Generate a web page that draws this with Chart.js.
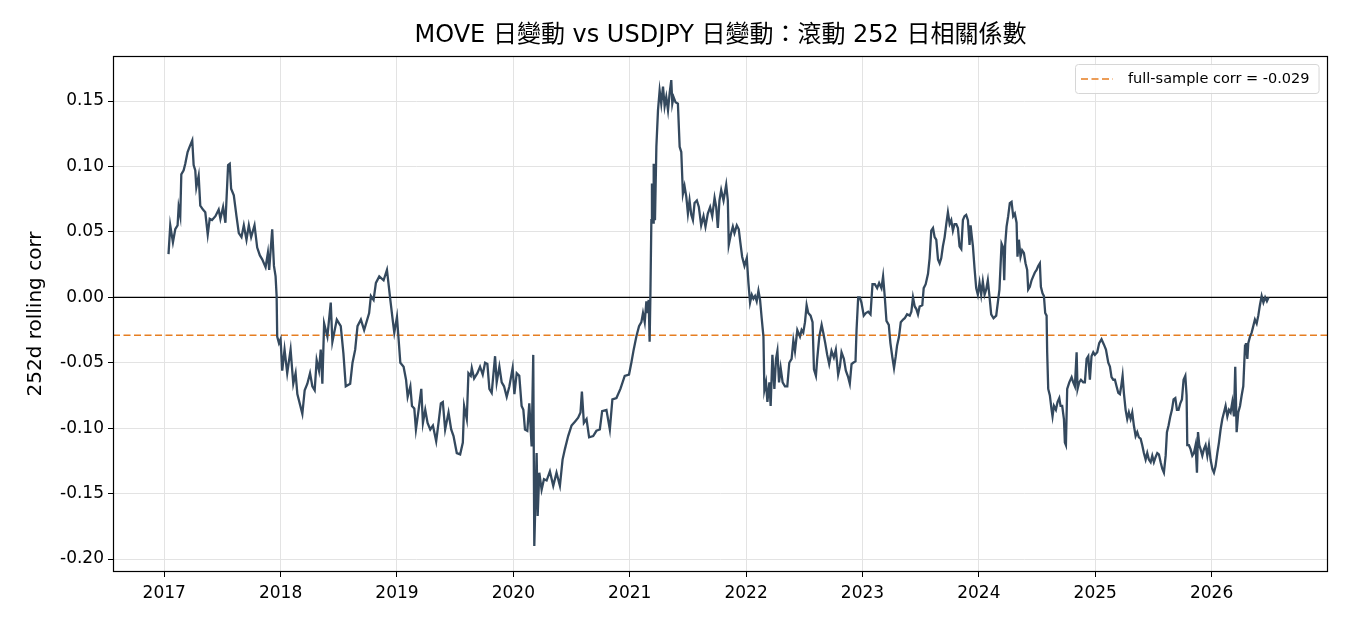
<!DOCTYPE html>
<html lang="zh-Hant">
<head>
    <meta charset="UTF-8">
    <title>MOVE vs USDJPY rolling corr</title>
    <script src="https://cdn.jsdelivr.net/npm/chart.js"></script>
    <style>
        html, body {
            margin: 0;
            padding: 0;
            background: #fff;
        }

        .chart-container {
            position: relative;
            width: 1350px;
            height: 630px;
        }
    </style>
</head>
<body>

    <div class="chart-container">
        <canvas id="corrChart"></canvas>
    </div>

    <script>
        // 日期（小數年）與 252 日滾動相關係數
        var dates = [
            2017.037, 2017.052, 2017.075, 2017.095, 2017.115, 2017.124, 2017.138, 2017.147, 2017.167, 2017.181,
            2017.201, 2017.218, 2017.241, 2017.253, 2017.267, 2017.276, 2017.296, 2017.310, 2017.333, 2017.353,
            2017.374, 2017.391, 2017.411, 2017.440, 2017.468, 2017.483, 2017.506, 2017.526, 2017.549, 2017.563,
            2017.575, 2017.598, 2017.621, 2017.641, 2017.664, 2017.684, 2017.707, 2017.727, 2017.747, 2017.776,
            2017.799, 2017.822, 2017.842, 2017.871, 2017.891, 2017.902, 2017.928, 2017.943, 2017.957, 2017.966,
            2017.971, 2017.986, 2018.000, 2018.014, 2018.034, 2018.057, 2018.086, 2018.109, 2018.129, 2018.144,
            2018.187, 2018.207, 2018.230, 2018.253, 2018.273, 2018.293, 2018.310, 2018.330, 2018.345, 2018.359,
            2018.374, 2018.402, 2018.431, 2018.445, 2018.483, 2018.517, 2018.540, 2018.560, 2018.598, 2018.618,
            2018.641, 2018.661, 2018.690, 2018.718, 2018.761, 2018.776, 2018.799, 2018.819, 2018.848, 2018.885,
            2018.914, 2018.943, 2018.963, 2018.977, 2019.000, 2019.029, 2019.057, 2019.078, 2019.092, 2019.115,
            2019.129, 2019.149, 2019.163, 2019.186, 2019.209, 2019.223, 2019.243, 2019.263, 2019.286, 2019.309,
            2019.337, 2019.357, 2019.377, 2019.394, 2019.414, 2019.443, 2019.466, 2019.486, 2019.514, 2019.543,
            2019.566, 2019.577, 2019.600, 2019.614, 2019.634, 2019.643, 2019.663, 2019.691, 2019.714, 2019.737,
            2019.757, 2019.777, 2019.794, 2019.814, 2019.843, 2019.857, 2019.880, 2019.900, 2019.920, 2019.943,
            2019.966, 2019.994, 2020.009, 2020.029, 2020.051, 2020.071, 2020.086, 2020.100, 2020.120, 2020.137,
            2020.157, 2020.171, 2020.180, 2020.200, 2020.209, 2020.223, 2020.243, 2020.263, 2020.286, 2020.314,
            2020.343, 2020.371, 2020.400, 2020.423, 2020.443, 2020.471, 2020.500, 2020.529, 2020.557, 2020.577,
            2020.589, 2020.606, 2020.629, 2020.651, 2020.686, 2020.714, 2020.743, 2020.763, 2020.800, 2020.829,
            2020.851, 2020.886, 2020.920, 2020.957, 2020.994, 2021.014, 2021.034, 2021.057, 2021.080, 2021.100,
            2021.114, 2021.129, 2021.143, 2021.151, 2021.163, 2021.171, 2021.177, 2021.186, 2021.191, 2021.200,
            2021.206, 2021.217, 2021.229, 2021.243, 2021.257, 2021.271, 2021.286, 2021.300, 2021.314, 2021.329,
            2021.343, 2021.357, 2021.366, 2021.377, 2021.394, 2021.414, 2021.429, 2021.443, 2021.457, 2021.471,
            2021.486, 2021.500, 2021.514, 2021.529, 2021.543, 2021.557, 2021.577, 2021.594, 2021.614, 2021.634,
            2021.651, 2021.671, 2021.691, 2021.709, 2021.729, 2021.743, 2021.757, 2021.771, 2021.786, 2021.806,
            2021.829, 2021.843, 2021.851, 2021.871, 2021.886, 2021.900, 2021.920, 2021.937, 2021.949, 2021.966,
            2021.986, 2022.006, 2022.020, 2022.034, 2022.049, 2022.063, 2022.077, 2022.091, 2022.106, 2022.120,
            2022.134, 2022.149, 2022.157, 2022.171, 2022.183, 2022.200, 2022.211, 2022.226, 2022.243, 2022.257,
            2022.269, 2022.283, 2022.297, 2022.314, 2022.334, 2022.354, 2022.371, 2022.391, 2022.406, 2022.420,
            2022.440, 2022.463, 2022.477, 2022.491, 2022.506, 2022.520, 2022.534, 2022.554, 2022.571, 2022.583,
            2022.600, 2022.611, 2022.629, 2022.649, 2022.663, 2022.680, 2022.697, 2022.714, 2022.734, 2022.754,
            2022.771, 2022.791, 2022.806, 2022.820, 2022.840, 2022.857, 2022.877, 2022.891, 2022.906, 2022.920,
            2022.940, 2022.949, 2022.963, 2022.977, 2022.991, 2023.011, 2023.029, 2023.049, 2023.069, 2023.086,
            2023.106, 2023.126, 2023.143, 2023.163, 2023.177, 2023.191, 2023.206, 2023.226, 2023.240, 2023.257,
            2023.271, 2023.286, 2023.297, 2023.314, 2023.329, 2023.349, 2023.363, 2023.383, 2023.406, 2023.420,
            2023.434, 2023.449, 2023.463, 2023.477, 2023.491, 2023.514, 2023.526, 2023.543, 2023.563, 2023.577,
            2023.591, 2023.606, 2023.620, 2023.634, 2023.649, 2023.663, 2023.677, 2023.691, 2023.706, 2023.720,
            2023.734, 2023.749, 2023.763, 2023.777, 2023.791, 2023.806, 2023.820, 2023.834, 2023.849, 2023.863,
            2023.877, 2023.891, 2023.906, 2023.920, 2023.929, 2023.940, 2023.949, 2023.963, 2023.977, 2023.991,
            2024.006, 2024.020, 2024.034, 2024.049, 2024.063, 2024.077, 2024.091, 2024.106, 2024.126, 2024.149,
            2024.163, 2024.177, 2024.195, 2024.209, 2024.218, 2024.226, 2024.238, 2024.252, 2024.266, 2024.281,
            2024.295, 2024.309, 2024.324, 2024.332, 2024.344, 2024.358, 2024.372, 2024.387, 2024.401, 2024.415,
            2024.424, 2024.438, 2024.453, 2024.467, 2024.481, 2024.496, 2024.510, 2024.524, 2024.533, 2024.547,
            2024.559, 2024.570, 2024.582, 2024.587, 2024.596, 2024.610, 2024.625, 2024.633, 2024.645, 2024.662,
            2024.676, 2024.691, 2024.702, 2024.716, 2024.731, 2024.739, 2024.748, 2024.759, 2024.777, 2024.797,
            2024.811, 2024.825, 2024.840, 2024.848, 2024.862, 2024.877, 2024.897, 2024.911, 2024.926, 2024.940,
            2024.954, 2024.968, 2024.983, 2024.997, 2025.017, 2025.034, 2025.054, 2025.074, 2025.092, 2025.112,
            2025.126, 2025.140, 2025.155, 2025.169, 2025.183, 2025.198, 2025.212, 2025.223, 2025.235, 2025.246,
            2025.261, 2025.275, 2025.289, 2025.304, 2025.318, 2025.332, 2025.347, 2025.361, 2025.375, 2025.390,
            2025.404, 2025.418, 2025.433, 2025.447, 2025.461, 2025.476, 2025.490, 2025.504, 2025.519, 2025.533,
            2025.547, 2025.562, 2025.576, 2025.590, 2025.605, 2025.616, 2025.630, 2025.645, 2025.659, 2025.673,
            2025.688, 2025.702, 2025.716, 2025.731, 2025.745, 2025.759, 2025.774, 2025.785, 2025.791, 2025.805,
            2025.819, 2025.834, 2025.848, 2025.862, 2025.874, 2025.883, 2025.894, 2025.905, 2025.920, 2025.934,
            2025.948, 2025.963, 2025.977, 2025.991, 2026.006, 2026.020, 2026.034, 2026.049, 2026.063, 2026.077,
            2026.092, 2026.106, 2026.120, 2026.135, 2026.149, 2026.163, 2026.178, 2026.192, 2026.203, 2026.215,
            2026.229, 2026.244, 2026.258, 2026.272, 2026.287, 2026.295, 2026.307, 2026.315, 2026.330, 2026.344,
            2026.358, 2026.372, 2026.387, 2026.401, 2026.415, 2026.430, 2026.445, 2026.460, 2026.475, 2026.490
        ];

        var corr = [
            0.033, 0.055, 0.042, 0.052, 0.055, 0.069, 0.062, 0.094, 0.097, 0.102,
            0.111, 0.115, 0.120, 0.101, 0.097, 0.084, 0.093, 0.070, 0.067, 0.065,
            0.048, 0.060, 0.059, 0.062, 0.067, 0.060, 0.069, 0.057, 0.101, 0.102,
            0.083, 0.078, 0.062, 0.049, 0.046, 0.055, 0.044, 0.055, 0.046, 0.055,
            0.038, 0.032, 0.029, 0.023, 0.034, 0.021, 0.052, 0.024, 0.016, 0.001,
            -0.030, -0.035, -0.032, -0.056, -0.040, -0.058, -0.040, -0.066, -0.058, -0.074,
            -0.089, -0.071, -0.066, -0.058, -0.068, -0.071, -0.048, -0.056, -0.040, -0.066,
            -0.020, -0.030, -0.004, -0.034, -0.017, -0.022, -0.043, -0.068, -0.066, -0.050,
            -0.040, -0.022, -0.017, -0.025, -0.012, 0.001, -0.002, 0.011, 0.016, 0.013,
            0.021, -0.002, -0.017, -0.027, -0.015, -0.050, -0.053, -0.063, -0.076, -0.068,
            -0.083, -0.085, -0.101, -0.086, -0.070, -0.096, -0.086, -0.096, -0.101, -0.098,
            -0.110, -0.096, -0.081, -0.080, -0.101, -0.088, -0.101, -0.106, -0.119, -0.120,
            -0.111, -0.083, -0.093, -0.058, -0.060, -0.054, -0.062, -0.058, -0.053, -0.059,
            -0.050, -0.051, -0.070, -0.073, -0.045, -0.065, -0.053, -0.065, -0.068, -0.076,
            -0.068, -0.054, -0.074, -0.058, -0.060, -0.083, -0.086, -0.101, -0.102, -0.081,
            -0.114, -0.044, -0.190, -0.119, -0.167, -0.134, -0.147, -0.139, -0.140, -0.133,
            -0.144, -0.134, -0.144, -0.124, -0.116, -0.106, -0.098, -0.095, -0.092, -0.088,
            -0.072, -0.096, -0.093, -0.107, -0.106, -0.102, -0.101, -0.087, -0.086, -0.101,
            -0.078, -0.077, -0.070, -0.060, -0.059, -0.050, -0.040, -0.030, -0.022, -0.019,
            -0.012, -0.019, -0.003, -0.012, -0.002, -0.034, -0.002, 0.059, 0.087, 0.057,
            0.102, 0.059, 0.115, 0.143, 0.158, 0.148, 0.161, 0.146, 0.153, 0.143,
            0.156, 0.166, 0.148, 0.153, 0.149, 0.148, 0.115, 0.111, 0.079, 0.085,
            0.077, 0.064, 0.074, 0.063, 0.059, 0.072, 0.074, 0.069, 0.055, 0.062,
            0.054, 0.064, 0.069, 0.062, 0.076, 0.069, 0.053, 0.074, 0.082, 0.074,
            0.086, 0.074, 0.040, 0.049, 0.054, 0.049, 0.055, 0.052, 0.043, 0.031,
            0.024, 0.030, 0.011, -0.004, 0.002, -0.001, 0.001, -0.003, 0.005, -0.002,
            -0.016, -0.030, -0.071, -0.065, -0.080, -0.065, -0.083, -0.044, -0.070, -0.047,
            -0.041, -0.065, -0.054, -0.065, -0.068, -0.068, -0.050, -0.047, -0.033, -0.041,
            -0.025, -0.030, -0.025, -0.027, -0.019, -0.006, -0.012, -0.014, -0.019, -0.055,
            -0.060, -0.047, -0.030, -0.021, -0.027, -0.035, -0.044, -0.051, -0.041, -0.046,
            -0.040, -0.059, -0.053, -0.042, -0.047, -0.056, -0.061, -0.066, -0.051, -0.050,
            -0.049, -0.025, 0.000, 0.000, -0.004, -0.014, -0.012, -0.011, -0.013, 0.010,
            0.010, 0.007, 0.011, 0.007, 0.016, 0.001, -0.018, -0.021, -0.035, -0.046,
            -0.054, -0.045, -0.037, -0.030, -0.019, -0.017, -0.016, -0.013, -0.014, -0.011,
            0.000, -0.007, -0.009, -0.013, -0.007, -0.006, 0.007, 0.010, 0.018, 0.030,
            0.051, 0.053, 0.046, 0.044, 0.029, 0.026, 0.030, 0.039, 0.046, 0.056,
            0.065, 0.056, 0.059, 0.051, 0.056, 0.056, 0.053, 0.039, 0.037, 0.059,
            0.062, 0.063, 0.059, 0.040, 0.055, 0.046, 0.039, 0.022, 0.007, 0.002,
            0.011, 0.002, 0.012, 0.002, 0.006, 0.013, 0.001, -0.013, -0.016, -0.014,
            -0.004, 0.006, 0.041, 0.038, 0.013, 0.040, 0.054, 0.062, 0.072, 0.073,
            0.062, 0.064, 0.057, 0.031, 0.044, 0.031, 0.036, 0.034, 0.026, 0.021,
            0.006, 0.008, 0.013, 0.016, 0.019, 0.021, 0.024, 0.026, 0.008, 0.003,
            0.001, -0.012, -0.014, -0.042, -0.070, -0.075, -0.086, -0.091, -0.083, -0.086,
            -0.080, -0.077, -0.083, -0.083, -0.093, -0.111, -0.113, -0.070, -0.065, -0.061,
            -0.065, -0.068, -0.042, -0.070, -0.065, -0.063, -0.065, -0.065, -0.047, -0.045,
            -0.063, -0.045, -0.042, -0.044, -0.042, -0.035, -0.032, -0.036, -0.040, -0.050,
            -0.053, -0.061, -0.063, -0.063, -0.068, -0.073, -0.074, -0.068, -0.060, -0.073,
            -0.086, -0.093, -0.088, -0.093, -0.088, -0.098, -0.106, -0.103, -0.107, -0.108,
            -0.113, -0.119, -0.124, -0.119, -0.124, -0.126, -0.121, -0.126, -0.122, -0.119,
            -0.120, -0.126, -0.131, -0.134, -0.121, -0.103, -0.098, -0.091, -0.086, -0.078,
            -0.077, -0.086, -0.086, -0.081, -0.078, -0.063, -0.060, -0.075, -0.113, -0.113,
            -0.116, -0.121, -0.119, -0.113, -0.134, -0.103, -0.113, -0.116, -0.121, -0.116,
            -0.113, -0.121, -0.113, -0.124, -0.131, -0.134, -0.129, -0.119, -0.111, -0.101,
            -0.093, -0.088, -0.083, -0.091, -0.086, -0.088, -0.080, -0.091, -0.053, -0.103,
            -0.088, -0.083, -0.075, -0.068, -0.037, -0.035, -0.047, -0.035, -0.030, -0.027,
            -0.022, -0.017, -0.020, -0.014, -0.006, 0.001, -0.004, 0.000, -0.003, 0.000
        ];

        var xTicks = [2017, 2018, 2019, 2020, 2021, 2022, 2023, 2024, 2025, 2026];
        var yTicks = [-0.20, -0.15, -0.10, -0.05, 0.00, 0.05, 0.10, 0.15];
        var fullSampleCorr = -0.029;
        var chartTitle = 'MOVE 日變動 vs USDJPY 日變動：滾動 252 日相關係數';

        var xMin = 2016.56, xMax = 2027.0;
        var yMin = -0.2099, yMax = 0.1844;

        var FONT = "'DejaVu Sans', 'Noto Sans CJK TC', sans-serif";

        // 標題置中於繪圖區上方
        var plotTitle = {
            id: 'plotTitle',
            afterDraw: function (chart) {
                var a = chart.chartArea;
                var ctx = chart.ctx;
                ctx.save();
                ctx.font = '24px ' + FONT;
                ctx.fillStyle = '#000';
                ctx.textAlign = 'center';
                ctx.textBaseline = 'middle';
                ctx.fillText(chartTitle, (a.left + a.right) / 2, 36);
                ctx.restore();
            }
        };

        // 外框（四邊）
        var frameBox = {
            id: 'frameBox',
            afterDatasetsDraw: function (chart) {
                var a = chart.chartArea;
                var ctx = chart.ctx;
                ctx.save();
                ctx.strokeStyle = '#000';
                ctx.lineWidth = 1.2;
                ctx.strokeRect(Math.round(a.left) + 0.5, Math.round(a.top) + 0.5,
                    Math.round(a.right - a.left) - 1, Math.round(a.bottom - a.top) - 1);
                ctx.restore();
            }
        };

        // 右上角圖例
        var cornerLegend = {
            id: 'cornerLegend',
            afterDraw: function (chart) {
                var ds = chart.data.datasets.find(function (d) { return d.inLegend; });
                var a = chart.chartArea;
                var ctx = chart.ctx;
                ctx.save();
                ctx.font = '14.5px ' + FONT;
                var tw = ctx.measureText(ds.label).width;
                var w = tw + 62, h = 29;
                var x = Math.round(a.right - 9 - w), y = Math.round(a.top + 8);
                ctx.beginPath();
                ctx.roundRect(x + 0.5, y + 0.5, w, h, 3);
                ctx.fillStyle = 'rgba(255,255,255,0.85)';
                ctx.fill();
                ctx.strokeStyle = '#d6d6d6';
                ctx.lineWidth = 1;
                ctx.stroke();
                ctx.beginPath();
                ctx.setLineDash(ds.borderDash);
                ctx.strokeStyle = ds.borderColor;
                ctx.lineWidth = ds.borderWidth;
                ctx.moveTo(x + 6, y + h / 2 + 0.5);
                ctx.lineTo(x + 38, y + h / 2 + 0.5);
                ctx.stroke();
                ctx.setLineDash([]);
                ctx.fillStyle = '#000';
                ctx.textBaseline = 'middle';
                ctx.fillText(ds.label, x + 53, y + h / 2 + 1);
                ctx.restore();
            }
        };

        var seriesData = dates.map(function (d, i) { return { x: d, y: corr[i] }; });

        var ctx = document.getElementById('corrChart').getContext('2d');
        var corrChart = new Chart(ctx, {
            type: 'line',
            data: {
                datasets: [{
                    label: '252d rolling corr',
                    data: seriesData,
                    borderColor: '#34495e',
                    borderWidth: 2.3,
                    pointRadius: 0,
                    tension: 0,
                    fill: false,
                    order: 0
                }, {
                    label: 'full-sample corr = ' + fullSampleCorr.toFixed(3),
                    inLegend: true,
                    data: [{ x: xMin, y: fullSampleCorr }, { x: xMax, y: fullSampleCorr }],
                    borderColor: '#e67e22',
                    borderWidth: 1.7,
                    borderDash: [7, 3.5],
                    pointRadius: 0,
                    fill: false,
                    order: 1
                }, {
                    label: 'zero',
                    data: [{ x: xMin, y: 0 }, { x: xMax, y: 0 }],
                    borderColor: '#000',
                    borderWidth: 1.2,
                    pointRadius: 0,
                    fill: false,
                    order: 2
                }]
            },
            options: {
                responsive: true,
                maintainAspectRatio: false,
                animation: false,
                layout: {
                    padding: { left: 0, right: 22, top: 56, bottom: 0 }
                },
                plugins: {
                    legend: { display: false },
                    tooltip: { enabled: false },
                    title: { display: false }
                },
                scales: {
                    x: {
                        type: 'linear',
                        min: xMin,
                        max: xMax,
                        afterFit: function (s) { s.height = 58; },
                        afterBuildTicks: function (s) {
                            s.ticks = xTicks.map(function (v) { return { value: v }; });
                        },
                        ticks: {
                            color: '#000',
                            font: { family: FONT, size: 17 },
                            padding: 6,
                            maxRotation: 0,
                            callback: function (v) { return String(v); }
                        },
                        grid: {
                            color: '#e3e3e3',
                            lineWidth: 1,
                            tickColor: '#000',
                            tickLength: 5
                        },
                        border: { display: false }
                    },
                    y: {
                        type: 'linear',
                        min: yMin,
                        max: yMax,
                        afterFit: function (s) { s.width = 113; },
                        afterBuildTicks: function (s) {
                            s.ticks = yTicks.map(function (v) { return { value: v }; });
                        },
                        ticks: {
                            color: '#000',
                            font: { family: FONT, size: 17 },
                            padding: 4,
                            callback: function (v) { return v.toFixed(2); }
                        },
                        grid: {
                            color: '#e3e3e3',
                            lineWidth: 1,
                            tickColor: '#000',
                            tickLength: 5
                        },
                        border: { display: false },
                        title: {
                            display: true,
                            text: '252d rolling corr',
                            color: '#000',
                            font: { family: FONT, size: 20 },
                            padding: { top: 24, bottom: 0 }
                        }
                    }
                }
            },
            plugins: [plotTitle, frameBox, cornerLegend]
        });
    </script>

</body>
</html>
